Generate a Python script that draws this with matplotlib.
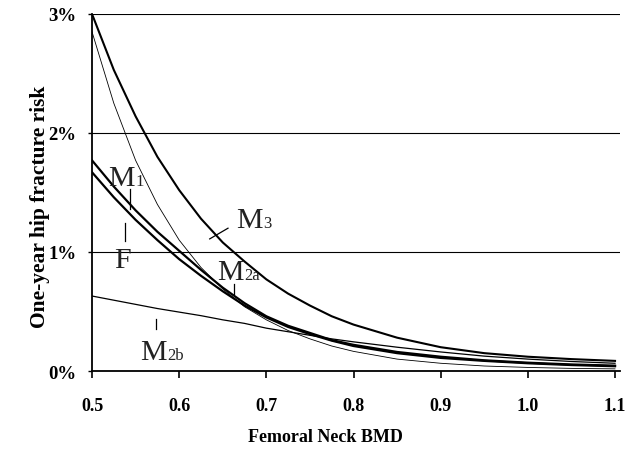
import matplotlib
matplotlib.use("Agg")
import matplotlib.pyplot as plt

plt.rcParams['font.family'] = ['Liberation Serif', 'DejaVu Serif']

# femoral neck BMD and one-year hip fracture risk (%)
bmd = [0.500, 0.525, 0.550, 0.575, 0.600, 0.625, 0.650, 0.675, 0.700, 0.725,
       0.750, 0.775, 0.800, 0.850, 0.900, 0.950, 1.000, 1.050, 1.100]
risk_m3 = [3.00, 2.53, 2.14, 1.80, 1.52, 1.28, 1.08, 0.92, 0.77, 0.65,
           0.55, 0.46, 0.39, 0.28, 0.20, 0.15, 0.12, 0.10, 0.085]
risk_m2a = [2.85, 2.25, 1.77, 1.40, 1.10, 0.87, 0.69, 0.54, 0.43, 0.34,
            0.27, 0.21, 0.165, 0.10, 0.065, 0.042, 0.03, 0.022, 0.018]
risk_m1 = [1.77, 1.55, 1.35, 1.17, 1.01, 0.85, 0.70, 0.57, 0.46, 0.38,
           0.32, 0.26, 0.22, 0.16, 0.12, 0.09, 0.07, 0.055, 0.045]
risk_f = [1.67, 1.46, 1.27, 1.10, 0.94, 0.80, 0.67, 0.55, 0.45, 0.37,
          0.31, 0.255, 0.21, 0.15, 0.11, 0.085, 0.065, 0.05, 0.04]
risk_m2b = [0.63, 0.595, 0.56, 0.525, 0.495, 0.465, 0.43, 0.40, 0.36, 0.33,
            0.30, 0.27, 0.245, 0.20, 0.16, 0.125, 0.10, 0.08, 0.065]

x_ticks = [0.5, 0.6, 0.7, 0.8, 0.9, 1.0, 1.1]
x_tick_labels = ['0.5', '0.6', '0.7', '0.8', '0.9', '1.0', '1.1']
y_ticks = [0, 1, 2, 3]
y_tick_labels = ['0%', '1%', '2%', '3%']

# label: (main, subscript, text x, text y, tick x0, y0, x1, y1)
curve_labels = [
    ('M', '1', 0.519, 1.56, 0.5436, 1.53, 0.5436, 1.36),
    ('F', '', 0.525, 0.87, 0.538, 1.24, 0.538, 1.09),
    ('M', '3', 0.665, 1.21, 0.635, 1.11, 0.656, 1.20),
    ('M', '2a', 0.643, 0.77, 0.663, 0.73, 0.663, 0.65),
    ('M', '2b', 0.555, 0.10, 0.573, 0.44, 0.573, 0.35),
]

fig, ax = plt.subplots(figsize=(6.32, 4.60), dpi=100)
fig.subplots_adjust(left=0.1456, right=0.981, top=0.9674, bottom=0.1913)

ax.plot(bmd, risk_m3, color='black', lw=1.5)
ax.plot(bmd, risk_m2a, color='black', lw=0.6)
ax.plot(bmd, risk_m1, color='black', lw=1.6)
ax.plot(bmd, risk_f, color='black', lw=1.6)
ax.plot(bmd, risk_m2b, color='black', lw=0.9)

for main, sub, tx, ty, x0, y0, x1, y1 in curve_labels:
    ax.text(tx, ty, main, fontsize=21.5, ha='left', va='baseline', color='#222222')
    if sub:
        ax.annotate(sub, xy=(tx, ty), xytext=(19.5 if main == 'M' else 12, 0),
                    textcoords='offset points', fontsize=12, ha='left',
                    va='baseline', color='#222222')
    ax.plot([x0, x1], [y0, y1], color='black', lw=0.9)

ax.set_xlim(0.5, 1.1057)
ax.set_ylim(0, 3)
ax.set_xticks(x_ticks)
ax.set_xticklabels(x_tick_labels, fontsize=13, fontweight='bold')
ax.set_yticks(y_ticks)
ax.set_yticklabels(y_tick_labels, fontsize=13.5, fontweight='bold')
ax.tick_params(axis='x', direction='out', length=5, width=1.2, pad=14)
ax.tick_params(axis='y', direction='out', length=3, width=1.0, pad=8)

ax.grid(axis='y', color='black', lw=0.8)
ax.set_axisbelow(True)
for side in ('top', 'right'):
    ax.spines[side].set_visible(False)
for side in ('left', 'bottom'):
    ax.spines[side].set_linewidth(1.3)

ax.set_xlabel('Femoral Neck BMD', fontsize=13, fontweight='bold')
ax.set_ylabel('One-year hip fracture risk', fontsize=15.5, fontweight='bold')
ax.xaxis.set_label_coords((325 - 92) / 528, (372 - 437) / 357)
ax.xaxis.label.set_va('center')
ax.yaxis.set_label_coords((40 - 92) / 528, (372 - 207) / 357)
ax.yaxis.label.set_va('center')

fig.savefig('out.png', dpi=100)
